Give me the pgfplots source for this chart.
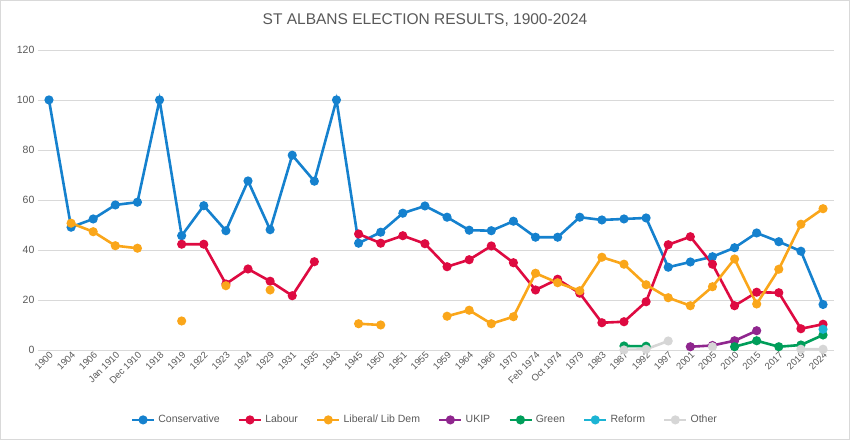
\documentclass[border=0pt]{standalone}
\usepackage{fontspec}
\setmainfont{Liberation Sans}
\usepackage{pgfplots}
\usepackage{pgfplotstable}
\pgfplotsset{compat=1.18}
\definecolor{con}{RGB}{21,129,206}
\definecolor{lab}{RGB}{222,10,65}
\definecolor{lib}{RGB}{250,166,26}
\definecolor{ukip}{RGB}{143,38,142}
\definecolor{grn}{RGB}{0,158,90}
\definecolor{ref}{RGB}{28,180,212}
\definecolor{oth}{RGB}{214,214,214}
\definecolor{txt}{RGB}{89,89,89}
\definecolor{gridc}{RGB}{217,217,217}
\pgfplotstableread{
x con lab lib ukip grn ref oth
0 100 nan nan nan nan nan nan
1 49.1 nan 50.7 nan nan nan nan
2 52.4 nan 47.3 nan nan nan nan
3 58.0 nan 41.7 nan nan nan nan
4 59.1 nan 40.7 nan nan nan nan
5 100 nan nan nan nan nan nan
6 45.7 42.3 11.6 nan nan nan nan
7 57.7 42.3 nan nan nan nan nan
8 47.7 26.4 25.7 nan nan nan nan
9 67.6 32.4 nan nan nan nan nan
10 48.1 27.5 24.0 nan nan nan nan
11 77.9 21.7 nan nan nan nan nan
12 67.5 35.3 nan nan nan nan nan
13 100 nan nan nan nan nan nan
14 42.7 46.4 10.5 nan nan nan nan
15 47.1 42.7 10.0 nan nan nan nan
16 54.7 45.7 nan nan nan nan nan
17 57.6 42.5 nan nan nan nan nan
18 53.1 33.3 13.5 nan nan nan nan
19 47.9 36.1 15.9 nan nan nan nan
20 47.7 41.6 10.5 nan nan nan nan
21 51.5 34.9 13.3 nan nan nan nan
22 45.1 24.0 30.7 nan nan nan nan
23 45.1 28.3 26.9 nan nan nan nan
24 53.1 22.7 23.7 nan nan nan nan
25 52.0 10.9 37.1 nan nan nan nan
26 52.4 11.3 34.3 nan 1.6 nan 0.0
27 52.8 19.3 26.1 nan 1.5 nan 0.3
28 33.1 42.1 20.9 nan nan nan 3.6
29 35.2 45.3 17.7 1.3 nan nan nan
30 37.3 34.3 25.3 1.8 nan nan 1.3
31 40.9 17.7 36.4 3.7 1.3 nan nan
32 46.8 23.1 18.4 7.7 3.7 nan nan
33 43.3 22.9 32.3 nan 1.3 nan nan
34 39.5 8.5 50.3 nan 2.0 nan 0.3
35 18.2 10.3 56.5 nan 6.0 8.3 0.3
}\data
\begin{document}
\begin{tikzpicture}[x=1pt,y=1pt]
\draw[gridc, line width=0.8pt] (0.5,0.5) rectangle (849.5,439.5);
\node[txt, font=\fontsize{15.5}{18}\selectfont] at (425,420) {ST ALBANS ELECTION RESULTS, 1900-2024};
\begin{axis}[
  at={(38pt,90pt)}, anchor=south west,
  scale only axis, width=796pt, height=300pt,
  xmin=-0.5, xmax=35.5, ymin=0, ymax=120,
  ytick={0,20,...,120},
  xtick={0,...,35},
  xticklabels={1900,1904,1906,Jan 1910,Dec 1910,1918,1919,1922,1923,1924,1929,1931,1935,1943,1945,1950,1951,1955,1959,1964,1966,1970,Feb 1974,Oct 1974,1979,1983,1987,1992,1997,2001,2005,2010,2015,2017,2019,2024},
  x tick label style={rotate=45, anchor=north east, inner sep=0.5pt, font=\fontsize{9.5}{11}\selectfont, text=txt},
  y tick label style={font=\fontsize{10.5}{12}\selectfont, text=txt},
  /pgf/number format/assume math mode=true,
  ymajorgrids, major grid style={gridc, line width=0.8pt},
  axis line style={draw=none},
  major tick length=0pt,
  unbounded coords=jump,
  every axis plot/.append style={line width=2.6pt, mark=*, mark size=3.2pt},
  legend columns=7,
  legend style={at={(rel axis cs:0.486,-0.233)}, anchor=center, draw=none, fill=none,
    font=\fontsize{10.5}{12}\selectfont, text=txt, /tikz/every even column/.append style={column sep=16pt},
    /tikz/every odd column/.append style={column sep=1pt}},
  legend image code/.code={\draw[#1, mark repeat=2, mark phase=2] plot coordinates {(0pt,0pt) (11pt,0pt) (22pt,0pt)};},
]
\addplot[con, mark options={fill=con}] table[x=x,y=con] {\data};
\addplot[lab, mark options={fill=lab}] table[x=x,y=lab] {\data};
\addplot[lib, mark options={fill=lib}] table[x=x,y=lib] {\data};
\addplot[ukip, mark options={fill=ukip}] table[x=x,y=ukip] {\data};
\addplot[grn, mark options={fill=grn}] table[x=x,y=grn] {\data};
\addplot[ref, mark options={fill=ref}] table[x=x,y=ref] {\data};
\addplot[oth, mark options={fill=oth}] table[x=x,y=oth] {\data};
\legend{Conservative,Labour,Liberal/ Lib Dem,UKIP,Green,Reform,Other}
\end{axis}
\end{tikzpicture}
\end{document}
